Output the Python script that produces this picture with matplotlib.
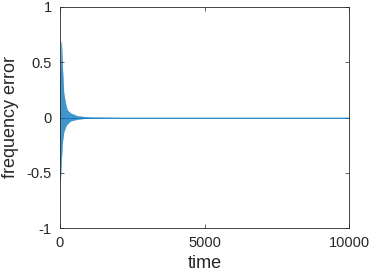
import numpy as np
import matplotlib.pyplot as plt

plt.rcParams['font.family'] = ['Liberation Sans', 'DejaVu Sans']

# envelope of the frequency error
t_env = [0, 10, 30, 45, 80, 125, 185, 240, 360, 590, 800, 1100, 1500, 2000, 10000]
upper = [0.10, 0.30, 0.55, 0.69, 0.45, 0.22, 0.13, 0.07, 0.04, 0.015, 0.008, 0.004, 0.002, 0.0, 0.0]
lower = [-0.30, -0.57, -0.45, -0.37, -0.22, -0.13, -0.085, -0.06, -0.03, -0.015, -0.008, -0.004, -0.002, 0.0, 0.0]

xticks = [0, 5000, 10000]
yticks = [-1, -0.5, 0, 0.5, 1]
yticklabels = ['-1', '-0.5', '0', '0.5', '1']

fig = plt.figure(figsize=(3.74, 2.73), dpi=100)
ax = fig.add_axes([60 / 374, 45 / 273, 289 / 374, 221 / 273])

blue = '#0072BD'
ax.fill_between(t_env, lower, upper, color=blue, linewidth=0.3, alpha=0.75)
ax.plot(t_env, [0] * len(t_env), color=blue, linewidth=0.5)

ax.set_xlim(0, 10000)
ax.set_ylim(-1, 1)
ax.set_xticks(xticks)
ax.set_xticklabels([str(v) for v in xticks])
ax.set_yticks(yticks)
ax.set_yticklabels(yticklabels)
ax.tick_params(direction='in', top=True, right=True, length=3, width=0.5,
               labelsize=10.5, colors='#262626', pad=6)
for s in ax.spines.values():
    s.set_color('#262626')
    s.set_linewidth(0.6)
ax.set_xlabel('time', fontsize=13, color='#262626', labelpad=3)
ax.set_ylabel('frequency error', fontsize=13, color='#262626', labelpad=5)

fig.savefig('out.png', dpi=100)
